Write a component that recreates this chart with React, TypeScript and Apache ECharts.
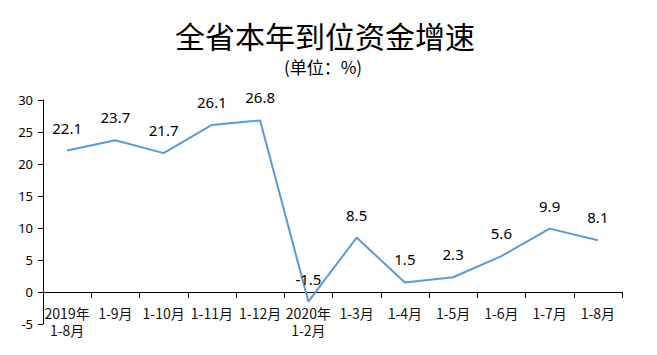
import React, { useEffect, useRef } from "react";
import * as echarts from "echarts";

const categories = [
  "2019年\n1-8月",
  "1-9月",
  "1-10月",
  "1-11月",
  "1-12月",
  "2020年\n1-2月",
  "1-3月",
  "1-4月",
  "1-5月",
  "1-6月",
  "1-7月",
  "1-8月",
];
const growth = [22.1, 23.7, 21.7, 26.1, 26.8, -1.5, 8.5, 1.5, 2.3, 5.6, 9.9, 8.1];
const titleText = "全省本年到位资金增速";
const unitText = "(单位：%)";

export default function App() {
  const ref = useRef<HTMLDivElement>(null);
  useEffect(() => {
    if (!ref.current) return;
    const chart = echarts.init(ref.current, undefined, { renderer: "svg" });
    chart.setOption({
      animation: false,
      backgroundColor: "#ffffff",
      graphic: [
        {
          type: "text",
          x: 325,
          y: 35,
          style: {
            text: titleText,
            fontSize: 30,
            lineHeight: 30,
            fontFamily: "Noto Sans CJK SC",
            fill: "#000",
            textAlign: "center",
            textVerticalAlign: "middle",
          },
        },
        {
          type: "text",
          x: 323,
          y: 66,
          style: {
            text: unitText,
            fontSize: 17,
            lineHeight: 18,
            fontFamily: "Noto Sans CJK SC",
            fill: "#000",
            textAlign: "center",
            textVerticalAlign: "middle",
          },
        },
      ],
      grid: {
        left: 43,
        right: 35,
        top: 100,
        bottom: 31,
        containLabel: false,
        outerBoundsMode: "none",
      },
      xAxis: {
        type: "category",
        data: categories,
        boundaryGap: true,
        axisLine: { onZero: true, lineStyle: { color: "#000", width: 1 } },
        axisTick: { show: true, length: 6, lineStyle: { color: "#000" } },
        axisLabel: {
          interval: 0,
          margin: -20,
          fontSize: 14,
          lineHeight: 17,
          color: "#111",
          fontFamily: "Noto Sans CJK SC",
        },
        splitLine: { show: false },
      },
      yAxis: {
        type: "value",
        min: -5,
        max: 30,
        interval: 5,
        axisLine: { show: true, lineStyle: { color: "#000", width: 1 } },
        axisTick: { show: true, length: 5, lineStyle: { color: "#000" } },
        axisLabel: {
          margin: 10,
          fontSize: 13,
          color: "#000",
          fontFamily: "Noto Sans",
        },
        splitLine: { show: false },
      },
      series: [
        {
          type: "line",
          data: growth,
          symbol: "circle",
          symbolSize: 0,
          showSymbol: true,
          lineStyle: { color: "#5B9BD5", width: 2 },
          itemStyle: { color: "#5B9BD5" },
          labelLayout: { hideOverlap: false },
          label: {
            show: true,
            position: "top",
            distance: 15,
            fontSize: 15,
            lineHeight: 16,
            color: "#000",
            fontFamily: "Noto Sans",
          },
        },
      ],
    });
    return () => chart.dispose();
  }, []);
  return (
    <div
      ref={ref}
      style={{ position: "absolute", left: 0, top: 0, width: 657, height: 355 }}
    />
  );
}
